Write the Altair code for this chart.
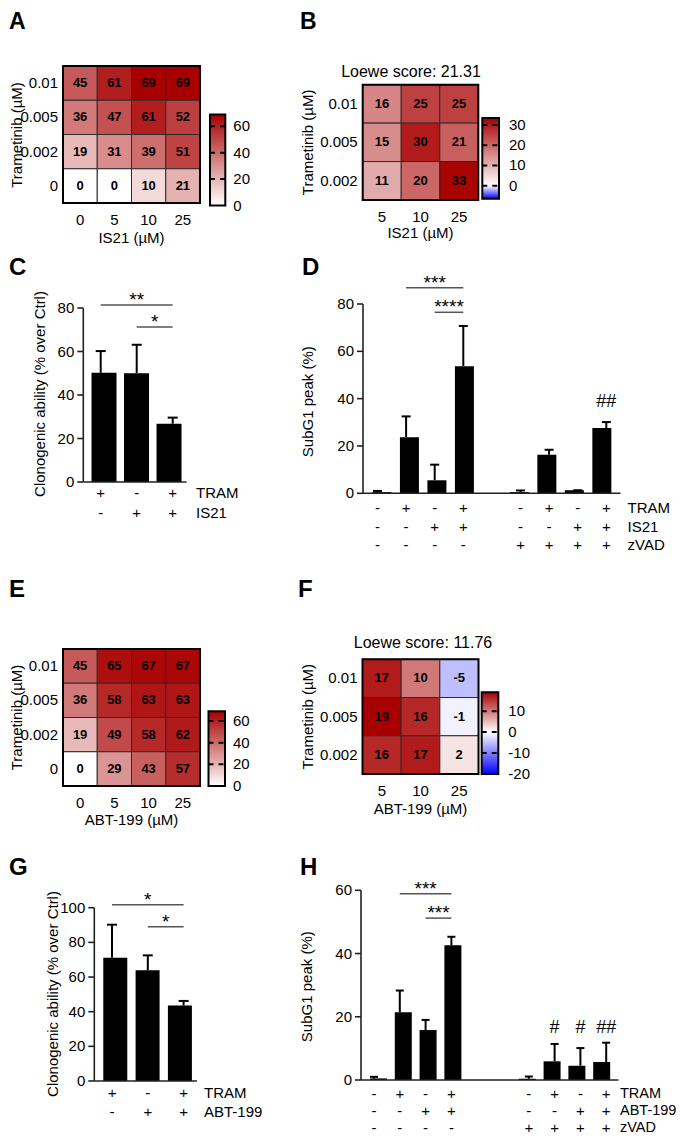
import altair as alt
import pandas as pd

FONT = "Liberation Sans"
OFF = 8  # page margin


def P(v):
    return v - OFF


RED = "#a80000"
WHITE = "#ffffff"
BLUE = "#0000ff"
AXIS = "#222222"

# ---------------- data ----------------
tram_conc_4 = ["0.01", "0.005", "0.002", "0"]
tram_conc_3 = ["0.01", "0.005", "0.002"]
dose_4 = ["0", "5", "10", "25"]
dose_3 = ["5", "10", "25"]

A_inhib = [[45, 61, 69, 69], [36, 47, 61, 52], [19, 31, 39, 51], [0, 0, 10, 21]]
B_synergy = [[16, 25, 25], [15, 30, 21], [11, 20, 33]]
E_inhib = [[45, 65, 67, 67], [36, 58, 63, 63], [19, 49, 58, 62], [0, 29, 43, 57]]
F_synergy = [[17, 10, -5], [19, 16, -1], [16, 17, 2]]
B_score = "Loewe score: 21.31"
F_score = "Loewe score: 11.76"

A_cb_ticks = [0, 20, 40, 60]
A_cb_range = [0, 69]
B_cb_ticks = [0, 10, 20, 30]
B_cb_range = [-6.5, 33.5]
E_cb_ticks = [0, 20, 40, 60]
E_cb_range = [0, 69]
F_cb_ticks = [-20, -10, 0, 10]
F_cb_range = [-20, 19]

C_mean = [50.2, 50.0, 26.8]
C_upper = [60.2, 63.1, 29.6]
C_TRAM = ["+", "-", "+"]
C_IS21 = ["-", "+", "+"]
C_yticks = [0, 20, 40, 60, 80]
C_sig = [("**", 0, 2, 81.4), ("*", 1, 2, 71.3)]

D_mean = [0.5, 23.7, 5.5, 53.7, 0.5, 16.3, 1.3, 27.6]
D_upper = [1.0, 32.5, 12.1, 70.7, 1.2, 18.4, 1.3, 30.1]
D_TRAM = ["-", "+", "-", "+", "-", "+", "-", "+"]
D_IS21 = ["-", "-", "+", "+", "-", "-", "+", "+"]
D_zVAD = ["-", "-", "-", "-", "+", "+", "+", "+"]
D_yticks = [0, 20, 40, 60, 80]
D_sig = [("***", 1, 3, 86.9), ("****", 2, 3, 76.5)]
D_hash = [("##", 7, 38.7)]

G_mean = [71.1, 63.9, 43.5]
G_upper = [90.2, 72.5, 46.2]
G_TRAM = ["+", "-", "+"]
G_ABT = ["-", "+", "+"]
G_yticks = [0, 20, 40, 60, 80, 100]
G_sig = [("*", 0, 2, 101.7), ("*", 1, 2, 89.0)]

H_mean = [0.5, 21.4, 15.8, 42.6, 0.4, 5.9, 4.5, 5.7]
H_upper = [1.0, 28.3, 19.0, 45.3, 1.1, 11.4, 10.1, 11.8]
H_TRAM = ["-", "+", "-", "+", "-", "+", "-", "+"]
H_ABT = ["-", "-", "+", "+", "-", "-", "+", "+"]
H_zVAD = ["-", "-", "-", "-", "+", "+", "+", "+"]
H_yticks = [0, 20, 40, 60]
H_sig = [("***", 1, 3, 58.9), ("***", 2, 3, 51.2)]
H_hash = [("#", 5, 16.3), ("#", 6, 16.3), ("##", 7, 16.3)]


# ---------------- helpers ----------------
def label(text, x, y, size=15, weight="normal", align="center",
          baseline="middle", angle=0):
    return alt.Chart(pd.DataFrame({"t": [text]})).mark_text(
        font=FONT, fontSize=size, fontWeight=weight, align=align,
        baseline=baseline, angle=angle, color="black"
    ).encode(x=alt.value(P(x)), y=alt.value(P(y)), text="t:N")


def heat(rows, cols, vals, gx0, gx1, gy0, gy1, lo, hi):
    nr, nc = len(rows), len(cols)
    xs = alt.Scale(domain=[0, nc], range=[P(gx0), P(gx1)], nice=False, zero=False)
    ys = alt.Scale(domain=[0, nr], range=[P(gy0), P(gy1)], nice=False, zero=False)
    if lo < 0:
        cs = alt.Scale(domain=[lo, 0, hi], range=[BLUE, WHITE, RED], interpolate="rgb")
    else:
        cs = alt.Scale(domain=[lo, hi], range=[WHITE, RED], interpolate="rgb")

    def X(f):
        return alt.X(f, scale=xs, axis=None)

    def Y(f):
        return alt.Y(f, scale=ys, axis=None)

    recs = []
    for i in range(nr):
        for j in range(nc):
            v = vals[i][j]
            recs.append({"r0": i, "r1": i + 1, "rm": i + 0.5,
                         "c0": j, "c1": j + 1, "cm": j + 0.5,
                         "v": v, "lab": str(v)})
    df = pd.DataFrame(recs)
    layers = [
        alt.Chart(df).mark_rect(stroke="#2b2b2b", strokeWidth=1).encode(
            x=X("c0:Q"), x2="c1:Q", y=Y("r0:Q"), y2="r1:Q",
            color=alt.Color("v:Q", scale=cs, legend=None)),
        alt.Chart(df).mark_text(font=FONT, fontSize=13, fontWeight="bold",
                                color="black", baseline="middle").encode(
            x=X("cm:Q"), y=Y("rm:Q"), text="lab:N"),
    ]
    frame = pd.DataFrame({"a": [0], "b": [nc], "c": [0], "d": [nr]})
    layers.append(alt.Chart(frame).mark_rect(
        fillOpacity=0, stroke="black", strokeWidth=2).encode(
        x=X("a:Q"), x2="b:Q", y=Y("c:Q"), y2="d:Q"))
    rl = pd.DataFrame({"lab": rows, "rm": [i + 0.5 for i in range(nr)],
                       "z": [0] * nr})
    layers.append(alt.Chart(rl).mark_text(
        font=FONT, fontSize=15, align="right", baseline="middle", dx=-5,
        color="black").encode(x=X("z:Q"), y=Y("rm:Q"), text="lab:N"))
    cl = pd.DataFrame({"lab": cols, "cm": [j + 0.5 for j in range(nc)],
                       "n": [nr] * nc})
    layers.append(alt.Chart(cl).mark_text(
        font=FONT, fontSize=15, align="center", baseline="middle", dy=17,
        color="black").encode(x=X("cm:Q"), y=Y("n:Q"), text="lab:N"))
    return layers


def colorbar(ticks, rng, bx0, bx1, py_lo, py_hi, ldx):
    lo, hi = rng
    xs = alt.Scale(domain=[0, 1], range=[P(bx0), P(bx1)], nice=False, zero=False)
    ys = alt.Scale(domain=[lo, hi], range=[P(py_lo), P(py_hi)], nice=False, zero=False)
    if lo < 0:
        z = (0 - lo) / (hi - lo)
        stops = [alt.GradientStop(color=BLUE, offset=0),
                 alt.GradientStop(color=WHITE, offset=z),
                 alt.GradientStop(color=RED, offset=1)]
    else:
        stops = [alt.GradientStop(color=WHITE, offset=0),
                 alt.GradientStop(color=RED, offset=1)]
    grad = alt.LinearGradient(gradient="linear", stops=stops,
                              x1=0, x2=0, y1=1, y2=0)
    box = pd.DataFrame({"a": [0], "b": [1], "lo": [lo], "hi": [hi]})
    tk = pd.DataFrame({"t": ticks, "lab": [str(t) for t in ticks],
                       "a": [0] * len(ticks), "b": [1] * len(ticks)})
    inner = tk[tk["t"] > lo]
    return [
        alt.Chart(box).mark_rect(fill=grad, stroke="black", strokeWidth=2).encode(
            x=alt.X("a:Q", scale=xs, axis=None), x2="b:Q",
            y=alt.Y("lo:Q", scale=ys, axis=None), y2="hi:Q"),
        alt.Chart(inner).mark_rule(color="black", strokeWidth=2,
                                   strokeDash=[5, 5]).encode(
            x=alt.X("a:Q", scale=xs, axis=None), x2="b:Q",
            y=alt.Y("t:Q", scale=ys, axis=None)),
        alt.Chart(tk).mark_text(font=FONT, fontSize=15, align="left",
                                baseline="middle", dx=ldx, color="black").encode(
            x=alt.X("b:Q", scale=xs, axis=None),
            y=alt.Y("t:Q", scale=ys, axis=None), text="lab:N"),
    ]


def bars(means, upper, gap_after, gap, c0, sp, ax_x, right_x, y0px, ytop_px,
         ymax, yticks, bw, cap, rows, names_x, sigs, hashes, name_size=15):
    n = len(means)
    slots = [i + (gap if i >= gap_after else 0) for i in range(n)]
    lo = (ax_x - c0) / sp
    hi = (right_x - c0) / sp
    xs = alt.Scale(domain=[lo, hi], range=[P(ax_x), P(right_x)], nice=False, zero=False)
    ys = alt.Scale(domain=[0, ymax], range=[P(y0px), P(ytop_px)], nice=False, zero=False)

    def X(f):
        return alt.X(f, scale=xs, axis=None)

    def Y(f):
        return alt.Y(f, scale=ys, axis=None)

    df = pd.DataFrame({"s": slots, "m": means, "u": upper, "z": [0] * n})
    layers = [
        alt.Chart(df).mark_rule(color="black", strokeWidth=2).encode(
            x=X("s:Q"), y=Y("m:Q"), y2="u:Q"),
        alt.Chart(df).mark_tick(orient="horizontal", size=cap, thickness=2,
                                color="black", opacity=1).encode(
            x=X("s:Q"), y=Y("u:Q")),
        alt.Chart(df).mark_bar(size=bw, color="black").encode(
            x=X("s:Q"), y=Y("m:Q"), y2="z:Q"),
    ]
    ax = pd.DataFrame({"lo": [lo], "hi": [hi], "z": [0], "top": [ymax]})
    layers.append(alt.Chart(ax).mark_rule(color=AXIS, strokeWidth=1.6).encode(
        x=X("lo:Q"), y=Y("z:Q"), y2="top:Q"))
    layers.append(alt.Chart(ax).mark_rule(color=AXIS, strokeWidth=1.6).encode(
        x=X("lo:Q"), x2="hi:Q", y=Y("z:Q")))
    tk = pd.DataFrame({"t": yticks, "lab": [str(t) for t in yticks],
                       "lo": [lo] * len(yticks)})
    layers.append(alt.Chart(tk).mark_rule(color=AXIS, strokeWidth=1.6,
                                          xOffset=-6).encode(
        x=X("lo:Q"), x2="lo:Q", y=Y("t:Q")))
    layers.append(alt.Chart(tk).mark_text(font=FONT, fontSize=15, align="right",
                                          baseline="middle", dx=-9,
                                          color="black").encode(
        x=X("lo:Q"), y=Y("t:Q"), text="lab:N"))
    for name, signs, ry in rows:
        rdf = pd.DataFrame({"s": slots, "sg": signs})
        layers.append(alt.Chart(rdf).mark_text(
            font=FONT, fontSize=15, align="center", baseline="middle",
            color="black").encode(x=X("s:Q"), y=alt.value(P(ry)), text="sg:N"))
        layers.append(label(name, names_x, ry, size=name_size, align="left"))
    sdf = pd.DataFrame({
        "a": [slots[i] for _, i, _, _ in sigs],
        "b": [slots[j] for _, _, j, _ in sigs],
        "mid": [(slots[i] + slots[j]) / 2 for _, i, j, _ in sigs],
        "y": [yv for _, _, _, yv in sigs],
        "t": [t for t, _, _, _ in sigs]})
    layers.append(alt.Chart(sdf).mark_rule(color="#555555", strokeWidth=1.5).encode(
        x=X("a:Q"), x2="b:Q", y=Y("y:Q")))
    layers.append(alt.Chart(sdf).mark_text(
        font=FONT, fontSize=19, align="center", baseline="alphabetic", dy=1,
        color="black").encode(x=X("mid:Q"), y=Y("y:Q"), text="t:N"))
    if hashes:
        hdf = pd.DataFrame({"s": [slots[i] for _, i, _ in hashes],
                            "y": [yv for _, _, yv in hashes],
                            "t": [t for t, _, _ in hashes]})
        layers.append(alt.Chart(hdf).mark_text(
            font=FONT, fontSize=18, align="center", baseline="middle",
            color="black").encode(x=X("s:Q"), y=Y("y:Q"), text="t:N"))
    return layers


layers = []

# Panel letters (top row starts just below the drawable top edge)
layers.append(label("A", 9, 11, size=23, weight="bold", align="left", baseline="top"))
layers.append(label("B", 300, 11, size=23, weight="bold", align="left", baseline="top"))
for let, lx, ly in [("C", 9, 275), ("D", 302, 275), ("E", 9, 597),
                    ("F", 298, 597), ("G", 9, 875), ("H", 300, 875)]:
    layers.append(label(let, lx, ly, size=24, weight="bold", align="left",
                        baseline="alphabetic"))

# A
layers += heat(tram_conc_4, dose_4, A_inhib, 63, 200, 66, 203, *A_cb_range)
layers += colorbar(A_cb_ticks, A_cb_range, 210, 225.3, 205.5, 114.5, 8)
layers.append(label("Trametinib (µM)", 17, 135, angle=270))
layers.append(label("IS21 (µM)", 131.5, 237.7))

# B
layers += heat(tram_conc_3, dose_3, B_synergy, 362.7, 478.3, 84.7, 200, *B_cb_range)
layers += colorbar(B_cb_ticks, B_cb_range, 482.3, 499, 198.8, 118, 10)
layers.append(label("Trametinib (µM)", 308, 142.4, angle=270))
layers.append(label("IS21 (µM)", 420.5, 233.3))
layers.append(label(B_score, 411, 71.7, size=16))

# C
layers += bars(C_mean, C_upper, 99, 0, 100.7, 36, 83.3, 186.5, 482, 308, 80,
               C_yticks, 25, 10,
               [("TRAM", C_TRAM, 493.3), ("IS21", C_IS21, 512.7)], 196,
               C_sig, [])
layers.append(label("Clonogenic ability (% over Ctrl)", 40, 394, angle=270))

# D
layers += bars(D_mean, D_upper, 4, 1, 377.5, 28.6, 363, 620.5, 493.3, 304, 80,
               D_yticks, 19, 9,
               [("TRAM", D_TRAM, 508.3), ("IS21", D_IS21, 526.7),
                ("zVAD", D_zVAD, 545)], 627.5, D_sig, D_hash)
layers.append(label("SubG1 peak (%)", 308, 401.7, angle=270))

# E
layers += heat(tram_conc_4, dose_4, E_inhib, 63, 200, 649, 786, *E_cb_range)
layers += colorbar(E_cb_ticks, E_cb_range, 208.5, 225, 786, 711.3, 8)
layers.append(label("Trametinib (µM)", 17, 717.5, angle=270))
layers.append(label("ABT-199 (µM)", 131.5, 820))

# F
layers += heat(tram_conc_3, dose_3, F_synergy, 362.5, 478.5, 659.3, 774, -20, 19)
layers += colorbar(F_cb_ticks, F_cb_range, 481.7, 498.3, 774, 692.3, 10)
layers.append(label("Trametinib (µM)", 308, 716.7, angle=270))
layers.append(label("ABT-199 (µM)", 420.5, 809.3))
layers.append(label(F_score, 423, 643.3, size=16))

# G
layers += bars(G_mean, G_upper, 99, 0, 112, 35.8, 94.3, 197, 1081, 907.7, 100,
               G_yticks, 24, 10,
               [("TRAM", G_TRAM, 1092.7), ("ABT-199", G_ABT, 1111.7)], 204,
               G_sig, [])
layers.append(label("Clonogenic ability (% over Ctrl)", 53, 994, angle=270))

# H
layers += bars(H_mean, H_upper, 4, 2, 374, 25.8, 361, 618.5, 1080, 890.3, 60,
               H_yticks, 17, 8,
               [("TRAM", H_TRAM, 1093.5), ("ABT-199", H_ABT, 1111),
                ("zVAD", H_zVAD, 1128.3)], 620, H_sig, H_hash, name_size=14.5)
layers.append(label("SubG1 peak (%)", 306.7, 986.7, angle=270))

chart = alt.layer(*layers).resolve_scale(
    x="independent", y="independent", color="independent"
).properties(
    width=669, height=1129, padding=0, autosize="none"
).configure_view(strokeWidth=0)

chart.save("out.html", embed_options={"renderer": "svg", "actions": False})
